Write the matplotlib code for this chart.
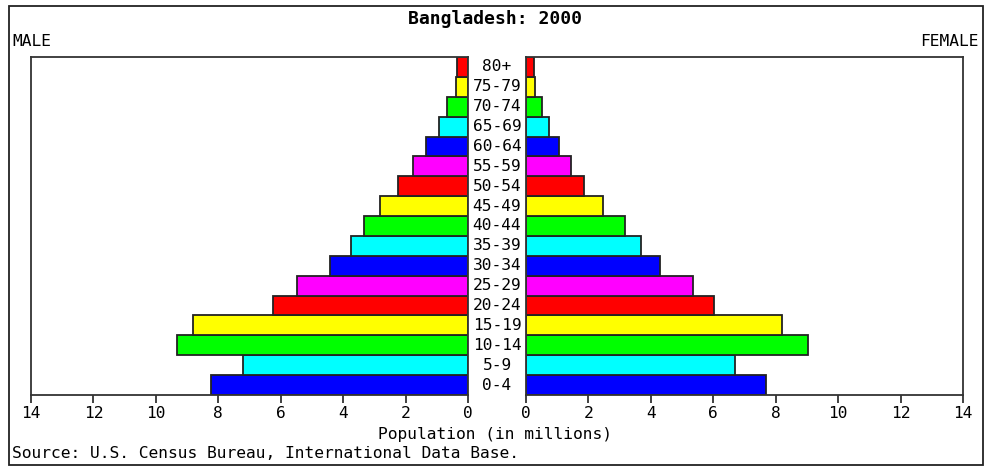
import matplotlib
matplotlib.use("Agg")
import matplotlib.pyplot as plt
import matplotlib.transforms as mtransforms
from matplotlib.patches import Rectangle

age_groups = ["0-4", "5-9", "10-14", "15-19", "20-24", "25-29", "30-34", "35-39",
              "40-44", "45-49", "50-54", "55-59", "60-64", "65-69", "70-74", "75-79", "80+"]
male = [8.24, 7.20, 9.31, 8.80, 6.25, 5.47, 4.43, 3.75, 3.34, 2.81, 2.24, 1.76,
        1.36, 0.93, 0.68, 0.40, 0.36]
female = [7.69, 6.69, 9.05, 8.19, 6.03, 5.34, 4.30, 3.67, 3.16, 2.48, 1.85, 1.44,
          1.07, 0.74, 0.50, 0.29, 0.25]
bar_colors = ["#0000ff", "#00ffff", "#00ff00", "#ffff00", "#ff0000", "#ff00ff"]
ticks = [0, 2, 4, 6, 8, 10, 12, 14]
title = "Bangladesh: 2000"
xlabel = "Population (in millions)"
source = "Source: U.S. Census Bureau, International Data Base."

W, H = 989, 466
fig = plt.figure(figsize=(W / 100, H / 100), dpi=100)
fig.patch.set_facecolor("white")
font = ["DejaVu Sans Mono"]
fs = 11.7

def fx(px):
    return px / W

def fy(py):
    return 1 - py / H

axL = fig.add_axes([fx(31), fy(395), fx(437), (395 - 57) / H])
axR = fig.add_axes([fx(526), fy(395), fx(437), (395 - 57) / H])

cols = [bar_colors[i % len(bar_colors)] for i in range(len(age_groups))]
y = list(range(len(age_groups)))
axL.barh(y, male, height=1.0, color=cols, edgecolor="#222222", linewidth=1.3)
axR.barh(y, female, height=1.0, color=cols, edgecolor="#222222", linewidth=1.3)

for ax in (axL, axR):
    ax.set_ylim(-0.5, len(age_groups) - 0.5)
    ax.set_yticks([])
    ax.set_xticks(ticks)
    ax.set_xticklabels([str(t) for t in ticks], fontfamily=font, fontsize=fs)
    ax.tick_params(axis="x", direction="out", length=6, width=1.3, pad=2, color="#333333")
    for s in ax.spines.values():
        s.set_linewidth(1.3)
        s.set_color("#333333")
axL.set_xlim(14, 0)
axR.set_xlim(0, 14)

trans = mtransforms.blended_transform_factory(fig.transFigure, axL.transData)
for i, lab in enumerate(age_groups):
    axL.text(fx(497), i, lab, transform=trans, ha="center", va="center",
             fontfamily=font, fontsize=fs, clip_on=False)

fig.text(fx(495), fy(19), title, ha="center", va="center", fontfamily=font,
         fontsize=13, fontweight="bold")
fig.text(fx(12), fy(41), "MALE", ha="left", va="center", fontfamily=font, fontsize=fs)
fig.text(fx(979), fy(41), "FEMALE", ha="right", va="center", fontfamily=font, fontsize=fs)
fig.text(fx(495), fy(434), xlabel, ha="center", va="center", fontfamily=font, fontsize=fs)
fig.text(fx(12), fy(454), source, ha="left", va="center", fontfamily=font, fontsize=fs)

fig.patches.append(Rectangle((fx(9), fy(465)), fx(983 - 9), (465 - 6) / H,
                             transform=fig.transFigure, fill=False,
                             edgecolor="#222222", linewidth=1.3))

fig.savefig("out.png", dpi=100)
